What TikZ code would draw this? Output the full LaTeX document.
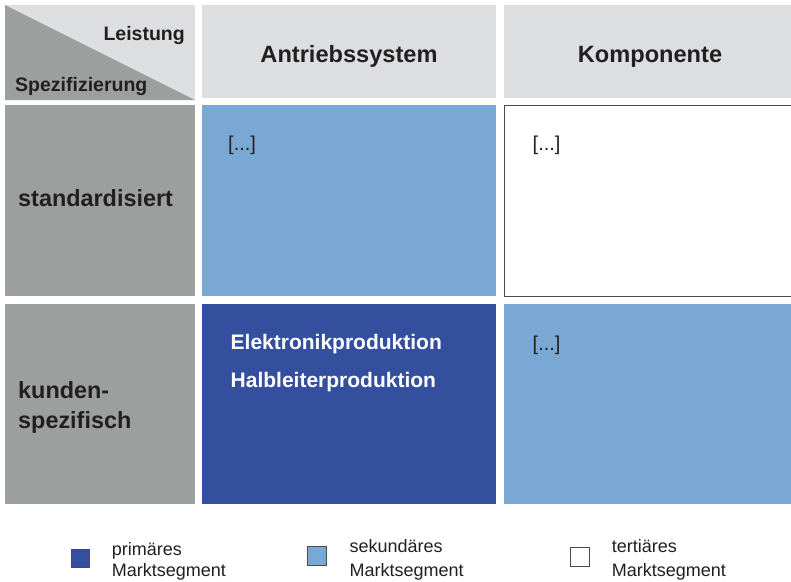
\documentclass[tikz,border=0pt]{standalone}
\usepackage{fontspec}
\setmainfont{Liberation Sans}
\definecolor{headgray}{HTML}{DDDEE0}
\definecolor{rowgray}{HTML}{9B9F9E}
\definecolor{lightblue}{HTML}{79A8D5}
\definecolor{darkblue}{HTML}{334F9E}
\definecolor{ink}{HTML}{231F20}
\definecolor{frame}{HTML}{4A4A4A}
\begin{document}
\begin{tikzpicture}[x=1pt,y=-1pt,
  head/.style={inner sep=0pt,anchor=base,text=ink,font=\bfseries\fontsize{23.6}{28}\selectfont},
  rowlabel/.style={inner sep=0pt,anchor=base west,text=ink,font=\bfseries\fontsize{23.4}{28}\selectfont},
  cornerlabel/.style={inner sep=0pt,text=ink,font=\bfseries\fontsize{19.5}{23}\selectfont},
  entry/.style={inner sep=0pt,anchor=base west,text=white,font=\bfseries\fontsize{21}{25}\selectfont},
  dots/.style={inner sep=0pt,anchor=base west,text=ink,font=\fontsize{20}{24}\selectfont},
  legbox/.style={draw=frame,line width=0.8pt},
  legtext/.style={inner sep=0pt,anchor=base west,text=ink,font=\fontsize{18}{22}\selectfont}]
\useasboundingbox (0,0) rectangle (791,581);
\fill[white] (0,0) rectangle (791,581);

% corner cell split by the diagonal
\fill[headgray] (5,5) rectangle (195,100);
\fill[rowgray] (5,5) -- (195,100) -- (5,100) -- cycle;
\node[cornerlabel,anchor=base east] (leist) at (185,40.7) {Leistung};
\node[cornerlabel,anchor=base west] (spez) at (15,91.5) {Spezifizierung};

% column headers
\fill[headgray] (202,5) rectangle (496,98);
\fill[headgray] (504,5) rectangle (791,98);
\node[head] (hA) at (349,62) {Antriebssystem};
\node[head] (hK) at (650,62) {Komponente};

% row headers
\fill[rowgray] (5,105) rectangle (195,296);
\fill[rowgray] (5,304) rectangle (195,504);
\node[rowlabel] (rs) at (18,206) {standardisiert};
\node[rowlabel] (rk1) at (18,398) {kunden-};
\node[rowlabel] (rk2) at (18,428) {spezifisch};

% matrix cells
\fill[lightblue] (202,105) rectangle (496,296);
\draw[frame,line width=0.9pt,fill=white] (504,105.5) rectangle (795,296);
\fill[darkblue] (202,304) rectangle (496,504);
\fill[lightblue] (504,304) rectangle (791,504);

\node[dots] (c11) at (228,150) {[...]};
\node[dots] (c12) at (532.5,150) {[...]};
\node[dots] (c22) at (532.5,350) {[...]};
\node[entry] (e1) at (230.5,349.3) {Elektronikproduktion};
\node[entry] (e2) at (230.5,387.7) {Halbleiterproduktion};

% legend
\draw[legbox,fill=darkblue] (71,549) rectangle (89.3,567.5);
\node[legtext] (l1a) at (111.7,555.5) {primäres};
\node[legtext] (l1b) at (111.7,576.8) {Marktsegment};
\draw[legbox,fill=lightblue] (307.5,546.5) rectangle (326.5,565.5);
\node[legtext] (l2a) at (349.3,552.5) {sekundäres};
\node[legtext] (l2b) at (349.3,576) {Marktsegment};
\draw[legbox,fill=white] (570.3,547) rectangle (589.3,566);
\node[legtext] (l3a) at (611.7,552.5) {tertiäres};
\node[legtext] (l3b) at (611.7,576) {Marktsegment};
\end{tikzpicture}
\end{document}
